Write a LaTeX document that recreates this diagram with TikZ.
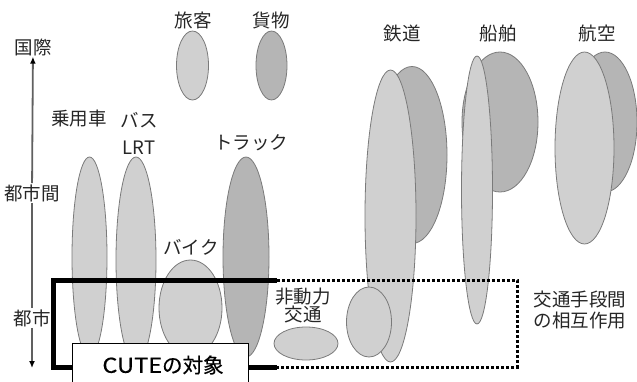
\documentclass[tikz,border=0pt]{standalone}
\usepackage{fontspec}
\setmainfont{Noto Sans CJK JP}
\usetikzlibrary{shapes.geometric,arrows.meta}
\definecolor{lightg}{HTML}{D0D0D0}
\definecolor{darkg}{HTML}{B5B5B5}
\definecolor{edgeg}{HTML}{7A7A7A}
\definecolor{txt}{HTML}{262626}
\definecolor{axisg}{HTML}{606060}
\tikzset{
  lbl/.style={font=\fontsize{18.5}{21}\selectfont, text=txt, inner sep=1pt, align=center},
  lightell/.style={ellipse, draw=edgeg, fill=lightg, line width=0.8pt, inner sep=0pt},
  darkell/.style={ellipse, draw=edgeg, fill=darkg, line width=0.8pt, inner sep=0pt},
  axisline/.style={draw=axisg, line width=1.8pt},
  axistip/.style={-{Latex[length=7pt,width=6pt,fill=black,color=black]}},
  thickline/.style={line width=5pt, draw=black},
  dotline/.style={line width=3pt, draw=black, dash pattern=on 3pt off 2pt},
  cutebox/.style={draw=black, fill=white, line width=0.8pt, minimum width=176pt, minimum height=47pt, inner sep=0pt, anchor=north west}
}
\begin{document}
\begin{tikzpicture}[x=1pt,y=-1pt]
\useasboundingbox (0,0) rectangle (637,381);
% top labels
\node[lbl] (ryokaku) at (193,20) {旅客};
\node[lbl] (kamotsu) at (271,20) {貨物};
\node[lbl] (tetsudo) at (402,33) {鉄道};
\node[lbl] (senpaku) at (498,33) {船舶};
\node[lbl] (koku) at (597,33) {航空};
% passenger / freight
\node[lightell, minimum width=32pt, minimum height=69pt] (eP) at (192.5,65.5) {};
\node[darkell, minimum width=31pt, minimum height=69pt] (eF) at (271.5,65.5) {};
% road modes
\node[lbl] (jouyousha) at (79,119) {乗用車};
\node[lbl, align=center] (bus) at (139,133) {バス\\[6pt]LRT};
\node[lbl] (truck) at (251,143) {トラック};
\node[lbl] (bike) at (191,247) {バイク};
\node[lightell, minimum width=35pt, minimum height=200pt] (eCar) at (89.5,257) {};
\node[lightell, minimum width=40pt, minimum height=206pt] (eBus) at (136,260) {};
\node[darkell, minimum width=46pt, minimum height=200pt] (eTruck) at (246,257) {};
\node[lightell, minimum width=63pt, minimum height=96pt] (eBike) at (190.5,308) {};
% rail, ship, air
\node[darkell, minimum width=70pt, minimum height=177pt] (eRailD) at (412,155) {};
\node[lightell, minimum width=51pt, minimum height=292pt] (eRail) at (390.5,216) {};
\node[darkell, minimum width=76pt, minimum height=140pt] (eShipD) at (500,122) {};
\node[lightell, minimum width=31pt, minimum height=268pt] (eShip) at (477,190) {};
\node[darkell, minimum width=64pt, minimum height=140pt] (eAirD) at (605,122) {};
\node[lightell, minimum width=59pt, minimum height=192pt] (eAir) at (584.5,148) {};
% non-motorised
\node[lbl, align=center, inner sep=0pt] (hidoryoku) at (303,306) {非動力\\[-3pt]交通};
\node[lightell, minimum width=64pt, minimum height=33pt] (eWalk) at (306,343.5) {};
\node[lightell, minimum width=45pt, minimum height=70pt] (eCycle) at (369,322) {};
\node[lbl, align=left] (sogo) at (580,310) {交通手段間\\の相互作用};
% vertical axis
\node[lbl] (kokusai) at (33,47) {国際};
\node[lbl] (toshikan) at (32,193) {都市間};
\node[lbl] (toshi) at (32,318) {都市};
\coordinate (axbot) at (32,368);
\draw[axisline, axistip] (toshikan) -- (kokusai);
\draw[axisline] (toshikan) -- (toshi);
\draw[axisline, axistip] (toshi) -- (axbot);
% scope frames
\coordinate (fTL) at (53,280);
\coordinate (fBL) at (53,367);
\coordinate (fTM) at (277,280);
\coordinate (fBM) at (277,367);
\coordinate (fTR) at (517,280);
\coordinate (fBR) at (517,367);
\draw[dotline] (fTM) -- (fTR) -- (fBR) -- (fBM);
\draw[thickline] (fTM) -- (fTL) -- (fBL) -- (fBM);
\node[cutebox] (cute) at (72,343) {};
\node[font=\fontsize{20.5}{24}\selectfont\addfontfeature{FakeBold=0.5}, inner sep=0pt] (cutetext) at (163,365) {\scalebox{1.15}[1]{CUTE}の対象};
\end{tikzpicture}
\end{document}
